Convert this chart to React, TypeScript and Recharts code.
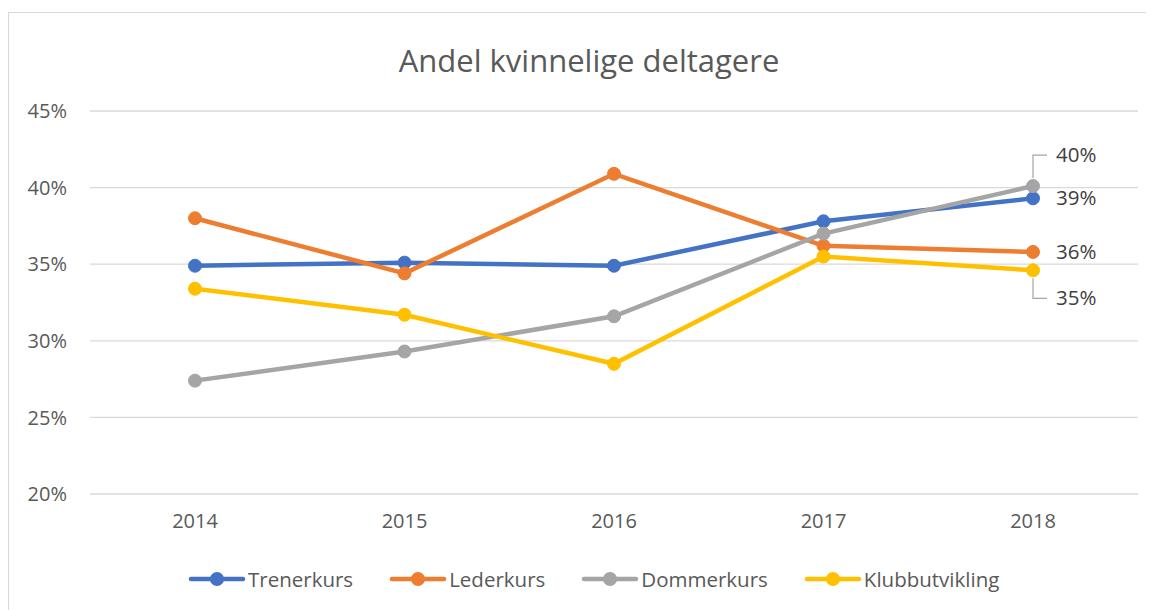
import { LineChart, Line, XAxis, YAxis, CartesianGrid, LabelList } from "recharts";

const years = ["2014", "2015", "2016", "2017", "2018"];
const trenerkurs = [0.349, 0.351, 0.349, 0.378, 0.393];
const lederkurs = [0.380, 0.344, 0.409, 0.362, 0.358];
const dommerkurs = [0.274, 0.293, 0.316, 0.370, 0.401];
const klubbutvikling = [0.334, 0.317, 0.285, 0.355, 0.346];
const yTicks = [0.2, 0.25, 0.3, 0.35, 0.4, 0.45];

const data = years.map((year, i) => ({
  year,
  Trenerkurs: trenerkurs[i],
  Lederkurs: lederkurs[i],
  Dommerkurs: dommerkurs[i],
  Klubbutvikling: klubbutvikling[i],
}));

const FONT = "'Open Sans', sans-serif";
const TEXT = "#595959";

const series = [
  { key: "Trenerkurs", color: "#4472C4", labelDy: 0, leader: 0 },
  { key: "Lederkurs", color: "#ED7D31", labelDy: 0, leader: 0 },
  { key: "Dommerkurs", color: "#A5A5A5", labelDy: -31, leader: -1 },
  { key: "Klubbutvikling", color: "#FFC000", labelDy: 28, leader: 1 },
];

const pct = (v: number) => `${Math.round(v * 100)}%`;

const makeEndLabel = (dy: number, leader: number) => (props: any) => {
  const { x, y, value, index } = props;
  if (index !== years.length - 1) return null;
  const ty = y + dy;
  return (
    <g>
      {leader !== 0 && (
        <polyline
          points={`${x},${y + leader * 8} ${x},${ty} ${x + 14},${ty}`}
          fill="none"
          stroke="#A5A5A5"
          strokeWidth={1.2}
        />
      )}
      <text x={x + 23} y={ty} dy={7} fontSize={20.5} fill="#404040" fontFamily={FONT}>
        {pct(value)}
      </text>
    </g>
  );
};

export default function App() {
  return (
    <div
      style={{
        position: "relative",
        marginTop: 4,
        width: 1160,
        height: 610,
        border: "1px solid #d9d9d9",
        fontFamily: FONT,
      }}
    >
      <div
        style={{
          position: "absolute",
          top: 26,
          left: 0,
          width: 1160,
          textAlign: "center",
          fontSize: 31,
          color: TEXT,
        }}
      >
        Andel kvinnelige deltagere
      </div>
      <LineChart
        width={1146}
        height={600}
        data={data}
        margin={{ top: 98, right: 17, bottom: 79, left: 0 }}
      >
        <CartesianGrid vertical={false} stroke="#d9d9d9" strokeWidth={1.3} />
        <XAxis
          dataKey="year"
          axisLine={false}
          tickLine={false}
          height={40}
          tickMargin={14}
          padding={{ left: 105, right: 105 }}
          tick={{ fontSize: 20, fill: TEXT, fontFamily: FONT }}
        />
        <YAxis
          domain={[0.2, 0.45]}
          ticks={yTicks}
          tickFormatter={pct}
          axisLine={false}
          tickLine={false}
          width={81}
          tickMargin={17}
          tick={{ fontSize: 20, fill: TEXT, fontFamily: FONT }}
        />
        {series.map((s) => (
          <Line
            key={s.key}
            dataKey={s.key}
            stroke={s.color}
            strokeWidth={4.5}
            dot={{ r: 6.5, fill: s.color, stroke: s.color, strokeWidth: 1 }}
            isAnimationActive={false}
          >
            <LabelList dataKey={s.key} content={makeEndLabel(s.labelDy, s.leader)} />
          </Line>
        ))}
      </LineChart>
      <div
        style={{
          position: "absolute",
          top: 552,
          left: 179,
          display: "flex",
          gap: 36,
          fontSize: 20.5,
          color: TEXT,
        }}
      >
        {series.map((s) => (
          <div key={s.key} style={{ display: "flex", alignItems: "center" }}>
            <svg width={58} height={16} style={{ marginRight: 2 }}>
              <line x1={3} y1={8} x2={55} y2={8} stroke={s.color} strokeWidth={4.5} strokeLinecap="round" />
              <circle cx={29} cy={8} r={7} fill={s.color} />
            </svg>
            <span>{s.key}</span>
          </div>
        ))}
      </div>
    </div>
  );
}
